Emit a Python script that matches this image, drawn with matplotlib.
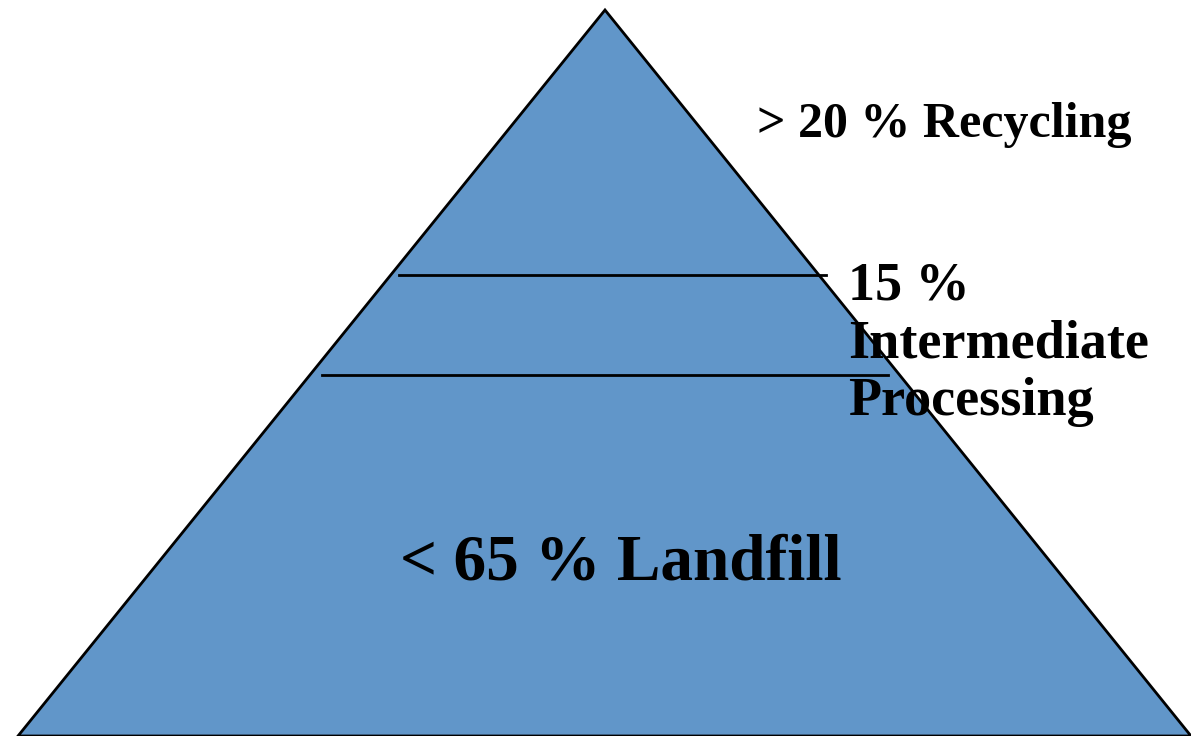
import matplotlib.pyplot as plt
from matplotlib.patches import Polygon

# pyramid outline (canvas units, y grows downward)
apex = (605, 10)
base_left = (18, 736)
base_right = (1191, 736)

# divider lines: (y, x_start, x_end)
dividers = [(275, 399, 826), (375, 322, 888)]

labels = ["> 20 % Recycling", "15 %\nIntermediate\nProcessing", "< 65 % Landfill"]
label_pos = [(757, 125), (848, 344), (621, 564)]
label_size = [36, 39, 47]
label_ha = ["left", "left", "center"]
label_spacing = [1.0, 1.2, 1.0]

fill_color = "#6196C9"

fig = plt.figure(figsize=(11.91, 7.36), dpi=100)
ax = fig.add_axes([0, 0, 1, 1])
ax.set_xlim(0, 1191)
ax.set_ylim(736, 0)
ax.axis("off")

tri = Polygon([apex, base_left, base_right], closed=True,
              facecolor=fill_color, edgecolor="black", linewidth=2)
ax.add_patch(tri)

for y, x0, x1 in dividers:
    ax.plot([x0, x1], [y, y], color="black", linewidth=2)

for txt, (x, y), fs, ha, ls in zip(labels, label_pos, label_size, label_ha, label_spacing):
    ax.text(x, y, txt, fontsize=fs, fontweight="bold", family="Liberation Serif",
            ha=ha, va="center", linespacing=ls, color="black")

fig.savefig("out.png", dpi=100)
